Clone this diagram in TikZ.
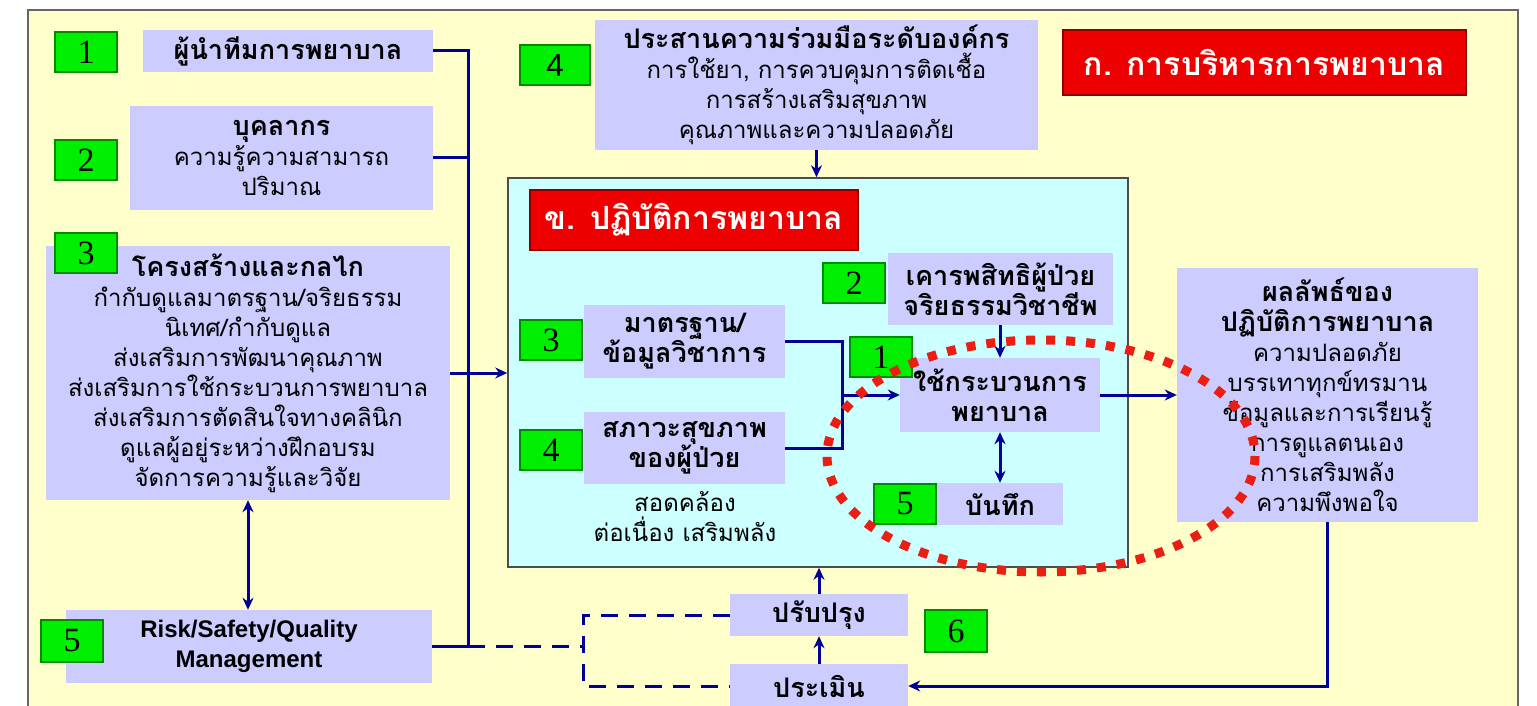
\documentclass[tikz,border=0pt]{standalone}
\usepackage{fontspec}
\setmainfont{Liberation Serif}
\newfontfamily\thai[Script=Thai]{Loma}
\newfontfamily\arialf{Liberation Sans}
\usetikzlibrary{arrows.meta}
\definecolor{frameY}{RGB}{255,255,204}
\definecolor{lavfill}{RGB}{204,204,255}
\definecolor{cyanfill}{RGB}{204,255,255}
\definecolor{gfill}{RGB}{0,238,0}
\definecolor{gdark}{RGB}{0,140,0}
\definecolor{rfill}{RGB}{238,0,0}
\definecolor{rdark}{RGB}{140,0,0}
\definecolor{navy}{RGB}{0,0,150}
\definecolor{dotred}{RGB}{235,30,20}
\newcommand{\tsz}{\fontsize{24}{30}\selectfont}
\newcommand{\bsz}{\fontsize{27}{30}\selectfont}
\newcommand{\bt}[1]{{\bsz\bfseries #1}}
\begin{document}
\begin{tikzpicture}[x=1pt,y=-1pt,
  lav/.style={fill=lavfill, draw=none, inner sep=0pt, align=center, font=\thai\tsz},
  lavb/.style={lav, font=\thai\bfseries\bsz},
  gbox/.style={fill=gfill, draw=gdark, line width=1.5pt, minimum width=62pt, minimum height=40pt, inner sep=0pt, font=\fontsize{34}{34}\selectfont},
  rbox/.style={fill=rfill, draw=rdark, line width=2.5pt, inner sep=0pt, text=white, font=\thai\bfseries\fontsize{32}{32}\selectfont},
  nline/.style={draw=navy, line width=3pt},
  narrow/.style={nline, -{Stealth[length=12pt,width=11pt]}},
  ndarrow/.style={nline, {Stealth[length=12pt,width=11pt]}-{Stealth[length=12pt,width=11pt]}},
  dline/.style={nline, dash pattern=on 17pt off 11pt},
  reddot/.style={draw=dotred, line width=9pt, dash pattern=on 9pt off 11pt}]
\useasboundingbox (0,0) rectangle (1537,706);
\clip (0,0) rectangle (1537,706);
\fill[white] (0,0) rectangle (1537,706);
% outer frame
\node[fill=frameY, draw=black!60, line width=2.5pt, minimum width=1490pt, minimum height=712pt, inner sep=0pt] (frame) at (773,366) {};
% top-right header
\node[rbox, minimum width=403pt, minimum height=65pt] (hdrA) at (1264.5,62.5) {ก. การบริหารการพยาบาล};
% left column boxes
\node[lavb, minimum width=290pt, minimum height=42pt] (b1) at (288,51) {ผู้นำทีมการพยาบาล};
\node[lav, minimum width=303pt, minimum height=104pt] (b2) at (281.5,158) {\bt{บุคลากร}\\ ความรู้ความสามารถ\\ ปริมาณ};
\node[lav, minimum width=404pt, minimum height=254pt] (b3) at (248,373) {\bt{โครงสร้างและกลไก}\\ กำกับดูแลมาตรฐาน/จริยธรรม\\ นิเทศ/กำกับดูแล\\ ส่งเสริมการพัฒนาคุณภาพ\\ ส่งเสริมการใช้กระบวนการพยาบาล\\ ส่งเสริมการตัดสินใจทางคลินิก\\ ดูแลผู้อยู่ระหว่างฝึกอบรม\\ จัดการความรู้และวิจัย};
\node[lav, minimum width=366pt, minimum height=73pt, font=\arialf\bfseries\fontsize{24}{30}\selectfont] (b5) at (249,646.5) {Risk/Safety/Quality\\ Management};
% top middle box
\node[lav, minimum width=443pt, minimum height=130pt] (b4top) at (816.5,85) {\bt{ประสานความร่วมมือระดับองค์กร}\\ การใช้ยา, การควบคุมการติดเชื้อ\\ การสร้างเสริมสุขภาพ\\ คุณภาพและความปลอดภัย};
% cyan practice area
\node[fill=cyanfill, draw=black!70, line width=1.5pt, minimum width=620pt, minimum height=389pt, inner sep=0pt] (cyan) at (818,372.5) {};
\node[rbox, minimum width=328pt, minimum height=60pt] (hdrB) at (694,220) {ข. ปฏิบัติการพยาบาล};
\node[lavb, minimum width=225pt, minimum height=72pt] (bResp) at (1000.5,289) {เคารพสิทธิผู้ป่วย\\ จริยธรรมวิชาชีพ};
\node[lavb, minimum width=201pt, minimum height=73pt] (bStd) at (684.5,341.5) {มาตรฐาน/\\ ข้อมูลวิชาการ};
\node[lavb, minimum width=201pt, minimum height=72pt] (bHealth) at (684.5,448) {สภาวะสุขภาพ\\ ของผู้ป่วย};
\node[lavb, minimum width=200pt, minimum height=74pt] (bProc) at (1000,395) {ใช้กระบวนการ\\ พยาบาล};
\node[lavb, minimum width=126pt, minimum height=42pt] (bRec) at (1000,504) {บันทึก};
\node[align=center, inner sep=0pt, font=\thai\tsz] (harm) at (685,517) {สอดคล้อง\\ ต่อเนื่อง เสริมพลัง};
% outcome box
\node[lav, minimum width=301pt, minimum height=254pt] (bRes) at (1327.5,395) {\bt{ผลลัพธ์ของ}\\ \bt{ปฏิบัติการพยาบาล}\\ ความปลอดภัย\\ บรรเทาทุกข์ทรมาน\\ ข้อมูลและการเรียนรู้\\ การดูแลตนเอง\\ การเสริมพลัง\\ ความพึงพอใจ};
% improvement loop
\node[lavb, minimum width=178pt, minimum height=42pt] (bImp) at (819,615) {ปรับปรุง};
\node[lavb, minimum width=178pt, minimum height=44pt] (bEval) at (819,686) {ประเมิน};
% green number boxes
\node[gbox] (g1) at (86,52) {1};
\node[gbox] (g2) at (86,160) {2};
\node[gbox] (g3) at (86,253) {3};
\node[gbox, minimum height=42pt] (g5) at (72,641) {5};
\node[gbox, minimum width=70pt, font=\arialf\fontsize{32}{32}\selectfont] (g4t) at (555,65) {4};
\node[gbox] (gi2) at (854,283) {2};
\node[gbox] (gi3) at (551,340) {3};
\node[gbox] (gi4) at (551,450) {4};
\node[gbox] (gi1) at (881,357) {1};
\node[gbox] (gi5) at (905,504) {5};
\node[gbox, minimum height=42pt] (g6) at (956,631) {6};
% connectors
\coordinate (bus) at (468,0);
\coordinate (dv) at (583,0);
\coordinate (jx) at (842,0);
\draw[nline] (b1.east) -- (b1.east -| bus) -- (b5.east -| bus) -- (b5.east);
\draw[nline] (b2.east) -- (b2.east -| bus);
\draw[narrow] (b3.east) -- (b3.east -| cyan.west);
\draw[ndarrow] (b3.south) -- (b3.south |- b5.north);
\draw[dline] (b5.east -| bus) -- (b5.east -| dv);
\draw[dline] (bImp.west) -- (bImp.west -| dv) -- (bEval.west -| dv) -- (bEval.west);
\draw[narrow] (b4top.south) -- (b4top.south |- cyan.north);
\draw[nline] (bStd.east) -- (bStd.east -| jx) -- (bHealth.east -| jx) -- (bHealth.east);
\draw[narrow] (bProc.west -| jx) -- (bProc.west);
\draw[narrow] (bProc.north |- bResp.south) -- (bProc.north);
\draw[ndarrow] (bProc.south) -- (bRec.north);
\draw[narrow] (bProc.east) -- (bProc.east -| bRes.west);
\draw[narrow] (bRes.south) |- (bEval.east);
\draw[narrow] (bEval.north) -- (bImp.south);
\draw[narrow] (bImp.north) -- (bImp.north |- cyan.south);
% red dotted ellipse
\draw[reddot] (1041,456) ellipse [x radius=214, y radius=116];
\end{tikzpicture}
\end{document}
